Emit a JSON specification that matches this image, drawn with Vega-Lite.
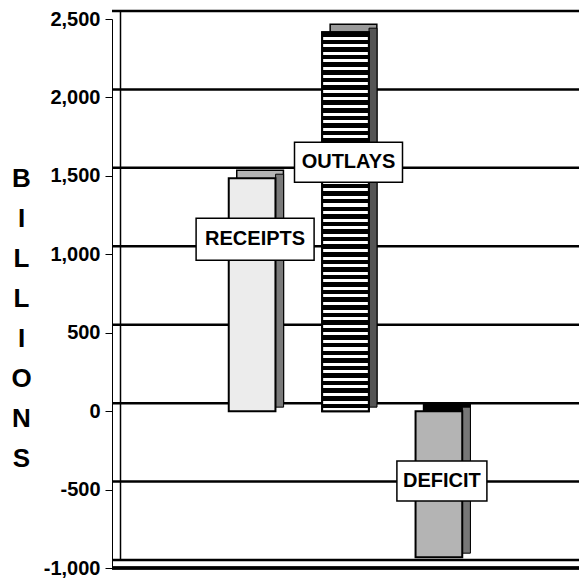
{
  "$schema": "https://vega.github.io/schema/vega-lite/v6.json",
  "width": 467,
  "height": 549,
  "autosize": {"type": "none"},
  "padding": {"left": 112, "top": 19, "right": 0, "bottom": 10},
  "background": "white",
  "config": {"view": {"stroke": null}, "font": "Liberation Sans"},
  "datasets": {
    "budget": [
      {"cat": "RECEIPTS", "value": 1485, "labelAt": 1096},
      {"cat": "OUTLAYS", "value": 2416, "labelAt": 1587},
      {"cat": "DEFICIT", "value": -931, "labelAt": -446}
    ],
    "grid": [{"v": -1000}, {"v": -500}, {"v": 0}, {"v": 500}, {"v": 1000}, {"v": 1500}, {"v": 2000}, {"v": 2500}]
  },
  "resolve": {"scale": {"fill": "independent", "shape": "independent"}, "axis": {"y": "independent"}},
  "layer": [
    {
      "data": {"name": "grid"},
      "mark": {"type": "rule", "color": "black", "strokeWidth": 2.5, "xOffset": 8, "x2Offset": 8, "yOffset": -8},
      "encoding": {
        "y": {
          "field": "v", "type": "quantitative",
          "scale": {"domain": [-1000, 2500], "nice": false, "zero": false},
          "axis": {
            "orient": "left",
            "values": [-1000, -500, 0, 500, 1000, 1500, 2000, 2500],
            "format": ",.0f",
            "labelExpr": "replace(datum.label, '\u2212', '-')",
            "grid": false,
            "domainColor": "black", "domainWidth": 1,
            "tickColor": "black", "tickSize": 7, "tickWidth": 1,
            "labelFont": "Liberation Sans", "labelFontWeight": "bold", "labelFontSize": 20, "labelColor": "black", "labelPadding": 5,
            "title": ["B", "I", "L", "L", "I", "O", "N", "S"],
            "titleAngle": 0, "titleFont": "Liberation Sans", "titleFontSize": 26, "titleFontWeight": "bold",
            "titleLineHeight": 40, "titleX": -91, "titleY": 146, "titleAlign": "center", "titleBaseline": "top", "titleColor": "black"
          }
        }
      }
    },
    {
      "data": {"name": "budget"},
      "mark": {"type": "rule", "color": "black", "strokeWidth": 3},
      "encoding": {"y": {"datum": -1000, "type": "quantitative", "scale": {"domain": [-1000, 2500]}, "axis": null}}
    },
    {
      "data": {"name": "budget"},
      "mark": {"type": "bar", "width": {"band": 0.5}, "xOffset": 8, "yOffset": -8, "y2Offset": -8, "stroke": "black", "strokeWidth": 1.5},
      "encoding": {
        "x": {"field": "cat", "type": "nominal", "sort": ["RECEIPTS", "OUTLAYS", "DEFICIT"], "scale": {"paddingInner": 0, "paddingOuter": 1}, "axis": null},
        "y": {
          "field": "value", "type": "quantitative", "scale": {"domain": [-1000, 2500]},
          "axis": {"orient": "left", "offset": -16, "translate": -7.5, "labels": false, "ticks": false, "grid": false, "domainColor": "black", "domainWidth": 1.5, "title": null}
        },
        "fill": {"field": "cat", "type": "nominal", "scale": {"domain": ["RECEIPTS", "OUTLAYS", "DEFICIT"], "range": ["#b4b4b4", "#9a9a9a", "#000000"]}, "legend": null}
      }
    },
    {
      "data": {"name": "budget"},
      "mark": {"type": "bar", "width": 8, "xOffset": 27.5, "yOffset": -4, "y2Offset": -4, "stroke": "black", "strokeWidth": 1},
      "encoding": {
        "x": {"field": "cat", "type": "nominal", "sort": ["RECEIPTS", "OUTLAYS", "DEFICIT"], "scale": {"paddingInner": 0, "paddingOuter": 1}, "axis": null},
        "y": {"field": "value", "type": "quantitative", "scale": {"domain": [-1000, 2500]}, "axis": null},
        "fill": {"field": "cat", "type": "nominal", "scale": {"domain": ["RECEIPTS", "OUTLAYS", "DEFICIT"], "range": ["#7a7a7a", "#555555", "#777777"]}, "legend": null}
      }
    },
    {
      "data": {"name": "budget"},
      "mark": {"type": "bar", "width": {"band": 0.5}, "stroke": "black", "strokeWidth": 2},
      "encoding": {
        "x": {"field": "cat", "type": "nominal", "sort": ["RECEIPTS", "OUTLAYS", "DEFICIT"], "scale": {"paddingInner": 0, "paddingOuter": 1}, "axis": null},
        "y": {"field": "value", "type": "quantitative", "scale": {"domain": [-1000, 2500]}, "axis": null},
        "fill": {"field": "cat", "type": "nominal", "scale": {"domain": ["RECEIPTS", "OUTLAYS", "DEFICIT"], "range": ["#ececec", "#5a5a5a", "#b4b4b4"]}, "legend": null}
      }
    },
    {
      "data": {"name": "budget"},
      "transform": [{"filter": "datum.cat === 'OUTLAYS'"}],
      "mark": {
        "type": "bar", "width": {"band": 0.5}, "stroke": "black", "strokeWidth": 2,
        "fill": {
          "gradient": "linear", "x1": 0, "y1": 0, "x2": 0, "y2": 1,
          "stops": [
            {"offset": 0, "color": "#000"}, {"offset": 0.012, "color": "#000"}, {"offset": 0.012, "color": "#fff"}, {"offset": 0.02, "color": "#fff"},
            {"offset": 0.02, "color": "#000"}, {"offset": 0.032, "color": "#000"}, {"offset": 0.032, "color": "#fff"}, {"offset": 0.04, "color": "#fff"},
            {"offset": 0.04, "color": "#000"}, {"offset": 0.052, "color": "#000"}, {"offset": 0.052, "color": "#fff"}, {"offset": 0.06, "color": "#fff"},
            {"offset": 0.06, "color": "#000"}, {"offset": 0.072, "color": "#000"}, {"offset": 0.072, "color": "#fff"}, {"offset": 0.08, "color": "#fff"},
            {"offset": 0.08, "color": "#000"}, {"offset": 0.092, "color": "#000"}, {"offset": 0.092, "color": "#fff"}, {"offset": 0.1, "color": "#fff"},
            {"offset": 0.1, "color": "#000"}, {"offset": 0.112, "color": "#000"}, {"offset": 0.112, "color": "#fff"}, {"offset": 0.12, "color": "#fff"},
            {"offset": 0.12, "color": "#000"}, {"offset": 0.132, "color": "#000"}, {"offset": 0.132, "color": "#fff"}, {"offset": 0.14, "color": "#fff"},
            {"offset": 0.14, "color": "#000"}, {"offset": 0.152, "color": "#000"}, {"offset": 0.152, "color": "#fff"}, {"offset": 0.16, "color": "#fff"},
            {"offset": 0.16, "color": "#000"}, {"offset": 0.172, "color": "#000"}, {"offset": 0.172, "color": "#fff"}, {"offset": 0.18, "color": "#fff"},
            {"offset": 0.18, "color": "#000"}, {"offset": 0.192, "color": "#000"}, {"offset": 0.192, "color": "#fff"}, {"offset": 0.2, "color": "#fff"},
            {"offset": 0.2, "color": "#000"}, {"offset": 0.212, "color": "#000"}, {"offset": 0.212, "color": "#fff"}, {"offset": 0.22, "color": "#fff"},
            {"offset": 0.22, "color": "#000"}, {"offset": 0.232, "color": "#000"}, {"offset": 0.232, "color": "#fff"}, {"offset": 0.24, "color": "#fff"},
            {"offset": 0.24, "color": "#000"}, {"offset": 0.252, "color": "#000"}, {"offset": 0.252, "color": "#fff"}, {"offset": 0.26, "color": "#fff"},
            {"offset": 0.26, "color": "#000"}, {"offset": 0.272, "color": "#000"}, {"offset": 0.272, "color": "#fff"}, {"offset": 0.28, "color": "#fff"},
            {"offset": 0.28, "color": "#000"}, {"offset": 0.292, "color": "#000"}, {"offset": 0.292, "color": "#fff"}, {"offset": 0.3, "color": "#fff"},
            {"offset": 0.3, "color": "#000"}, {"offset": 0.312, "color": "#000"}, {"offset": 0.312, "color": "#fff"}, {"offset": 0.32, "color": "#fff"},
            {"offset": 0.32, "color": "#000"}, {"offset": 0.332, "color": "#000"}, {"offset": 0.332, "color": "#fff"}, {"offset": 0.34, "color": "#fff"},
            {"offset": 0.34, "color": "#000"}, {"offset": 0.352, "color": "#000"}, {"offset": 0.352, "color": "#fff"}, {"offset": 0.36, "color": "#fff"},
            {"offset": 0.36, "color": "#000"}, {"offset": 0.372, "color": "#000"}, {"offset": 0.372, "color": "#fff"}, {"offset": 0.38, "color": "#fff"},
            {"offset": 0.38, "color": "#000"}, {"offset": 0.392, "color": "#000"}, {"offset": 0.392, "color": "#fff"}, {"offset": 0.4, "color": "#fff"},
            {"offset": 0.4, "color": "#000"}, {"offset": 0.412, "color": "#000"}, {"offset": 0.412, "color": "#fff"}, {"offset": 0.42, "color": "#fff"},
            {"offset": 0.42, "color": "#000"}, {"offset": 0.432, "color": "#000"}, {"offset": 0.432, "color": "#fff"}, {"offset": 0.44, "color": "#fff"},
            {"offset": 0.44, "color": "#000"}, {"offset": 0.452, "color": "#000"}, {"offset": 0.452, "color": "#fff"}, {"offset": 0.46, "color": "#fff"},
            {"offset": 0.46, "color": "#000"}, {"offset": 0.472, "color": "#000"}, {"offset": 0.472, "color": "#fff"}, {"offset": 0.48, "color": "#fff"},
            {"offset": 0.48, "color": "#000"}, {"offset": 0.492, "color": "#000"}, {"offset": 0.492, "color": "#fff"}, {"offset": 0.5, "color": "#fff"},
            {"offset": 0.5, "color": "#000"}, {"offset": 0.512, "color": "#000"}, {"offset": 0.512, "color": "#fff"}, {"offset": 0.52, "color": "#fff"},
            {"offset": 0.52, "color": "#000"}, {"offset": 0.532, "color": "#000"}, {"offset": 0.532, "color": "#fff"}, {"offset": 0.54, "color": "#fff"},
            {"offset": 0.54, "color": "#000"}, {"offset": 0.552, "color": "#000"}, {"offset": 0.552, "color": "#fff"}, {"offset": 0.56, "color": "#fff"},
            {"offset": 0.56, "color": "#000"}, {"offset": 0.572, "color": "#000"}, {"offset": 0.572, "color": "#fff"}, {"offset": 0.58, "color": "#fff"},
            {"offset": 0.58, "color": "#000"}, {"offset": 0.592, "color": "#000"}, {"offset": 0.592, "color": "#fff"}, {"offset": 0.6, "color": "#fff"},
            {"offset": 0.6, "color": "#000"}, {"offset": 0.612, "color": "#000"}, {"offset": 0.612, "color": "#fff"}, {"offset": 0.62, "color": "#fff"},
            {"offset": 0.62, "color": "#000"}, {"offset": 0.632, "color": "#000"}, {"offset": 0.632, "color": "#fff"}, {"offset": 0.64, "color": "#fff"},
            {"offset": 0.64, "color": "#000"}, {"offset": 0.652, "color": "#000"}, {"offset": 0.652, "color": "#fff"}, {"offset": 0.66, "color": "#fff"},
            {"offset": 0.66, "color": "#000"}, {"offset": 0.672, "color": "#000"}, {"offset": 0.672, "color": "#fff"}, {"offset": 0.68, "color": "#fff"},
            {"offset": 0.68, "color": "#000"}, {"offset": 0.692, "color": "#000"}, {"offset": 0.692, "color": "#fff"}, {"offset": 0.7, "color": "#fff"},
            {"offset": 0.7, "color": "#000"}, {"offset": 0.712, "color": "#000"}, {"offset": 0.712, "color": "#fff"}, {"offset": 0.72, "color": "#fff"},
            {"offset": 0.72, "color": "#000"}, {"offset": 0.732, "color": "#000"}, {"offset": 0.732, "color": "#fff"}, {"offset": 0.74, "color": "#fff"},
            {"offset": 0.74, "color": "#000"}, {"offset": 0.752, "color": "#000"}, {"offset": 0.752, "color": "#fff"}, {"offset": 0.76, "color": "#fff"},
            {"offset": 0.76, "color": "#000"}, {"offset": 0.772, "color": "#000"}, {"offset": 0.772, "color": "#fff"}, {"offset": 0.78, "color": "#fff"},
            {"offset": 0.78, "color": "#000"}, {"offset": 0.792, "color": "#000"}, {"offset": 0.792, "color": "#fff"}, {"offset": 0.8, "color": "#fff"},
            {"offset": 0.8, "color": "#000"}, {"offset": 0.812, "color": "#000"}, {"offset": 0.812, "color": "#fff"}, {"offset": 0.82, "color": "#fff"},
            {"offset": 0.82, "color": "#000"}, {"offset": 0.832, "color": "#000"}, {"offset": 0.832, "color": "#fff"}, {"offset": 0.84, "color": "#fff"},
            {"offset": 0.84, "color": "#000"}, {"offset": 0.852, "color": "#000"}, {"offset": 0.852, "color": "#fff"}, {"offset": 0.86, "color": "#fff"},
            {"offset": 0.86, "color": "#000"}, {"offset": 0.872, "color": "#000"}, {"offset": 0.872, "color": "#fff"}, {"offset": 0.88, "color": "#fff"},
            {"offset": 0.88, "color": "#000"}, {"offset": 0.892, "color": "#000"}, {"offset": 0.892, "color": "#fff"}, {"offset": 0.9, "color": "#fff"},
            {"offset": 0.9, "color": "#000"}, {"offset": 0.912, "color": "#000"}, {"offset": 0.912, "color": "#fff"}, {"offset": 0.92, "color": "#fff"},
            {"offset": 0.92, "color": "#000"}, {"offset": 0.932, "color": "#000"}, {"offset": 0.932, "color": "#fff"}, {"offset": 0.94, "color": "#fff"},
            {"offset": 0.94, "color": "#000"}, {"offset": 0.952, "color": "#000"}, {"offset": 0.952, "color": "#fff"}, {"offset": 0.96, "color": "#fff"},
            {"offset": 0.96, "color": "#000"}, {"offset": 0.972, "color": "#000"}, {"offset": 0.972, "color": "#fff"}, {"offset": 0.98, "color": "#fff"},
            {"offset": 0.98, "color": "#000"}, {"offset": 0.992, "color": "#000"}, {"offset": 0.992, "color": "#fff"}, {"offset": 1, "color": "#fff"}
          ]
        }
      },
      "encoding": {
        "x": {"field": "cat", "type": "nominal", "sort": ["RECEIPTS", "OUTLAYS", "DEFICIT"], "scale": {"paddingInner": 0, "paddingOuter": 1}, "axis": null},
        "y": {"field": "value", "type": "quantitative", "scale": {"domain": [-1000, 2500]}, "axis": null}
      }
    },
    {
      "data": {"name": "budget"},
      "mark": {"type": "point", "filled": true, "size": 4, "xOffset": 3, "fill": "white", "stroke": "black", "strokeWidth": 1.5, "opacity": 1, "strokeOpacity": 1, "fillOpacity": 1},
      "encoding": {
        "x": {"field": "cat", "type": "nominal", "sort": ["RECEIPTS", "OUTLAYS", "DEFICIT"], "scale": {"paddingInner": 0, "paddingOuter": 1}, "axis": null},
        "y": {"field": "labelAt", "type": "quantitative", "scale": {"domain": [-1000, 2500]}, "axis": null},
        "shape": {"field": "cat", "type": "nominal", "scale": {"domain": ["RECEIPTS", "OUTLAYS", "DEFICIT"], "range": ["M-59,-21H59V21H-59Z", "M-54,-20H54V20H-54Z", "M-45,-20H45V20H-45Z"]}, "legend": null}
      }
    },
    {
      "data": {"name": "budget"},
      "mark": {"type": "text", "xOffset": 3, "fontSize": 20, "fontWeight": "bold", "font": "Liberation Sans", "color": "black", "align": "center", "baseline": "middle"},
      "encoding": {
        "x": {"field": "cat", "type": "nominal", "sort": ["RECEIPTS", "OUTLAYS", "DEFICIT"], "scale": {"paddingInner": 0, "paddingOuter": 1}, "axis": null},
        "y": {"field": "labelAt", "type": "quantitative", "scale": {"domain": [-1000, 2500]}, "axis": null},
        "text": {"field": "cat", "type": "nominal"}
      }
    }
  ]
}
